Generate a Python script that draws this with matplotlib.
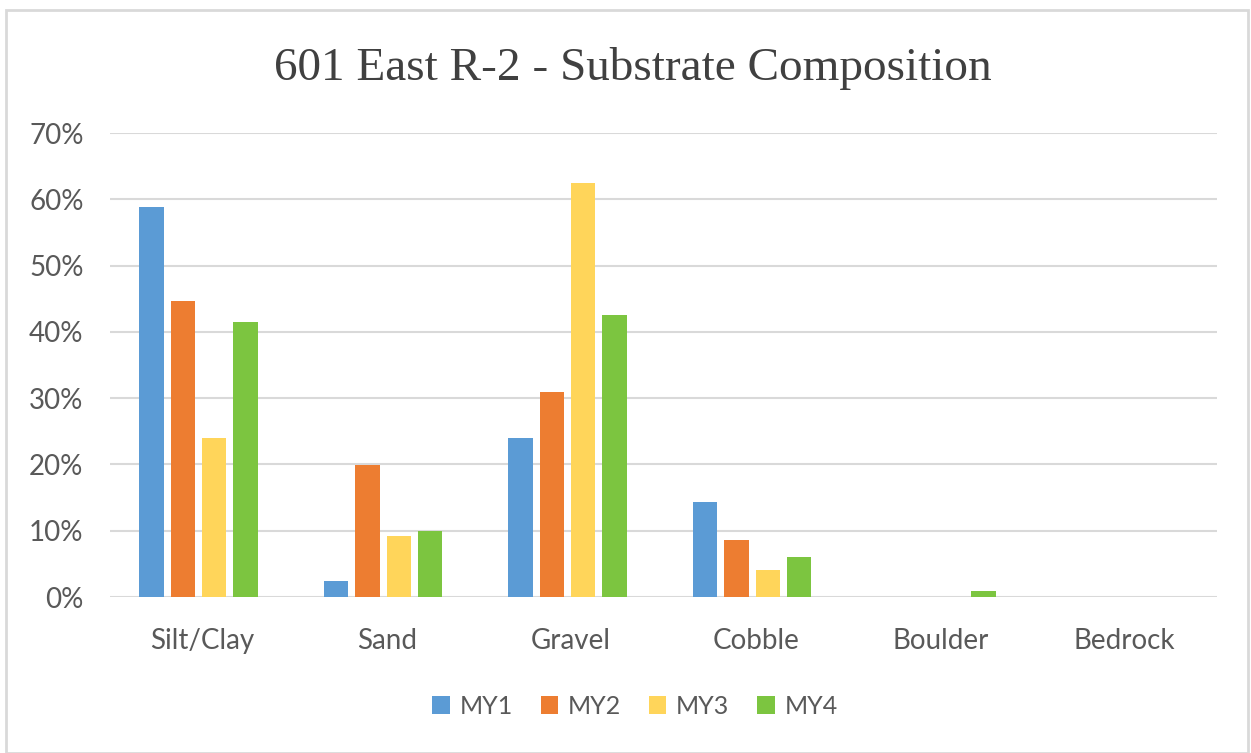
import numpy as np
import matplotlib
matplotlib.use("Agg")
from matplotlib import pyplot as plt
from matplotlib.patches import Rectangle

categories = ['Silt/Clay', 'Sand', 'Gravel', 'Cobble', 'Boulder', 'Bedrock']
series_names = ['MY1', 'MY2', 'MY3', 'MY4']
my1 = [0.588, 0.024, 0.240, 0.144, 0.0, 0.0]
my2 = [0.446, 0.199, 0.310, 0.086, 0.0, 0.0]
my3 = [0.240, 0.092, 0.624, 0.041, 0.0, 0.0]
my4 = [0.415, 0.100, 0.425, 0.060, 0.009, 0.0]
yticks = [0, 0.1, 0.2, 0.3, 0.4, 0.5, 0.6, 0.7]

colors = ['#5B9BD5', '#ED7D31', '#FFD55A', '#7CC540']
series = [my1, my2, my3, my4]

plt.rcParams['font.family'] = ['Lato', 'DejaVu Sans']

fig = plt.figure(figsize=(12.51, 7.53), dpi=100)
ax = fig.add_axes([110/1251, 1 - 597/753, 1107/1251, 464/753])

x = np.arange(len(categories))
step = 0.17
width = 0.132
for i, (name, vals) in enumerate(zip(series_names, series)):
    ax.bar(x + (i - 1.5)*step - 0.02, vals, width, color=colors[i], label=name, zorder=3)

ax.set_xlim(-0.5, len(categories) - 0.5)
ax.set_ylim(0, 0.7)
ax.set_yticks(yticks)
ax.set_yticklabels(['%d%%' % round(v*100) for v in yticks])
ax.set_xticks(x)
ax.set_xticklabels(categories)
ax.grid(axis='y', color='#D9D9D9', linewidth=1.5, zorder=0)
for s in ax.spines.values():
    s.set_visible(False)
ax.tick_params(length=0, labelsize=20, labelcolor='#595959')
ax.tick_params(axis='y', pad=19)
ax.tick_params(axis='x', pad=22)

fig.text(0.506, 1 - 80/753, '601 East R-2 - Substrate Composition', ha='center', va='baseline',
         fontsize=34, color='#404040', family='Liberation Serif')

ax.legend(loc='center', bbox_to_anchor=(635/1251, 1 - 706/753), bbox_transform=fig.transFigure,
          ncol=4, frameon=False, fontsize=18, handlelength=0.7, handleheight=0.7,
          handletextpad=0.4, columnspacing=1.1, labelcolor='#595959')

fig.patches.append(Rectangle((6/1251, 0), 1242/1251, 1 - 10/753, transform=fig.transFigure,
                             fill=False, edgecolor='#D9D9D9', linewidth=2))

fig.savefig('out.png', dpi=100)
